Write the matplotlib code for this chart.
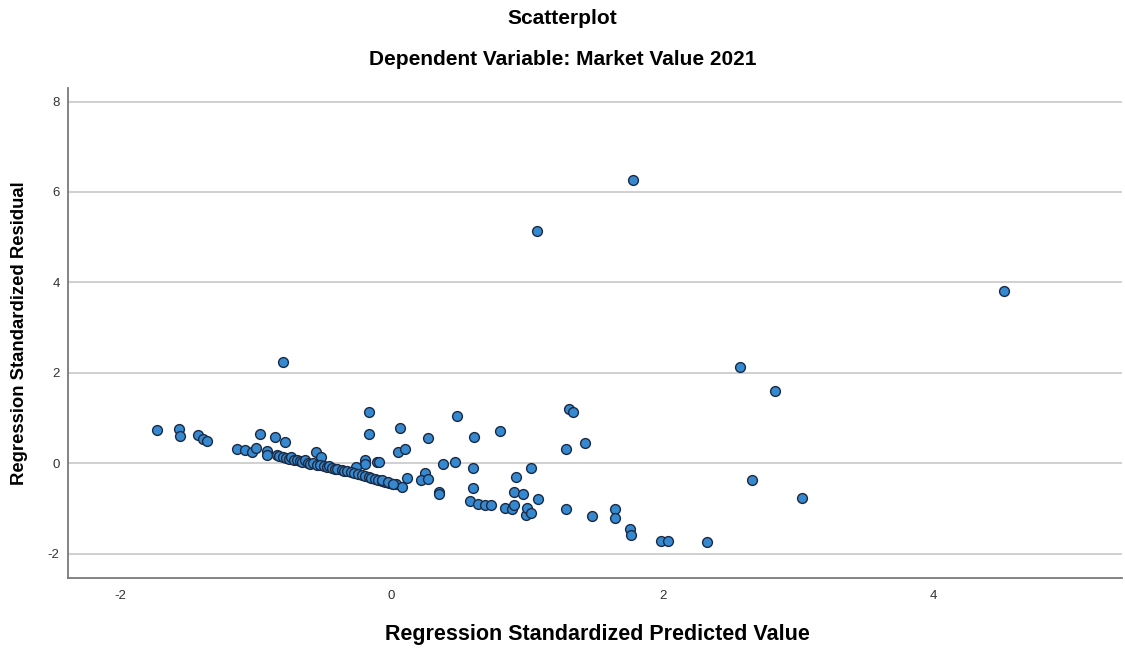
import matplotlib
matplotlib.use("Agg")
import matplotlib.pyplot as plt

plt.rcParams['font.family'] = ['Liberation Sans', 'DejaVu Sans']
plt.rcParams['axes.unicode_minus'] = False

# Regression standardized predicted value (x) and residual (y)
outlier_x = [1.78, 1.07, 4.52, -0.80, 2.57, 2.83, 2.66, 3.03, 2.33, 1.99, 2.04]
outlier_y = [6.26, 5.13, 3.81, 2.23, 2.12, 1.59, -0.38, -0.77, -1.75, -1.73, -1.73]

left_x = [-1.73, -1.57, -1.56, -1.43, -1.39, -1.36, -0.97, -0.86, -0.79,
          -1.14, -1.08, -1.03, -1.00, -0.92, -0.92, -0.85, -0.56, -0.52,
          -0.20, -0.20, -0.11, -0.26, -0.17, -0.17]
left_y = [0.73, 0.75, 0.60, 0.62, 0.53, 0.49, 0.64, 0.58, 0.47,
          0.31, 0.29, 0.24, 0.33, 0.27, 0.18, 0.18, 0.24, 0.13,
          0.07, -0.02, 0.02, -0.09, 1.13, 0.64]

band_x = [-0.83, -0.80, -0.78, -0.76, -0.74, -0.72, -0.70, -0.68, -0.66, -0.64,
          -0.62, -0.60, -0.58, -0.55, -0.53, -0.50, -0.48, -0.46, -0.44, -0.42,
          -0.40, -0.37, -0.35, -0.33, -0.30, -0.28, -0.25, -0.22, -0.20, -0.17,
          -0.15, -0.12, -0.10, -0.07, -0.05, -0.02, 0.01, 0.03]
band_y = [0.15, 0.14, 0.12, 0.10, 0.13, 0.07, 0.08, 0.05, 0.03, 0.06,
          0.01, -0.01, 0.00, -0.03, -0.04, -0.06, -0.08, -0.07, -0.11, -0.12,
          -0.13, -0.15, -0.17, -0.18, -0.20, -0.22, -0.24, -0.27, -0.29, -0.31,
          -0.33, -0.35, -0.37, -0.40, -0.42, -0.43, -0.45, -0.47]

right_x = [0.06, 0.48, 0.27, 0.61, 0.80, 1.31, 1.34, 1.43, 1.29, 0.05, 0.10,
           -0.09, 0.38, 0.47, 0.60, 1.03, 0.92, 0.25, 0.22, 0.27, 0.11, 0.08,
           -0.07, -0.03, 0.01, 0.35, 0.35, 0.60, 0.90, 0.97, 1.08, 0.58,
           0.64, 0.69, 0.73, 0.84, 0.89, 0.90, 0.99, 1.00, 1.03, 1.29,
           1.48, 1.65, 1.65, 1.76, 1.77]
right_y = [0.77, 1.04, 0.55, 0.58, 0.71, 1.19, 1.13, 0.44, 0.31, 0.24, 0.31,
           0.02, -0.02, 0.02, -0.11, -0.11, -0.30, -0.22, -0.38, -0.35, -0.33, -0.53,
           -0.38, -0.42, -0.46, -0.64, -0.69, -0.55, -0.64, -0.69, -0.80, -0.84,
           -0.91, -0.93, -0.93, -1.00, -1.02, -0.93, -1.15, -1.00, -1.10, -1.02,
           -1.17, -1.02, -1.22, -1.46, -1.59]

xs = outlier_x + left_x + band_x + right_x
ys = outlier_y + left_y + band_y + right_y

x_ticks = [-2, 0, 2, 4]
y_ticks = [-2, 0, 2, 4, 6, 8]

fig = plt.figure(figsize=(11.25, 6.52), dpi=100)
ax = fig.add_axes([0.0604, 0.1135, 0.9366, 0.7515])

ax.set_xlim(-2.39, 5.39)
ax.set_ylim(-2.54, 8.3)
for t in y_ticks:
    ax.axhline(t, color='#c8c8c8', lw=1.2, zorder=0)

ax.scatter(xs, ys, s=50, facecolor='#3689cf', edgecolor='#1a2a44',
           linewidth=1.0, zorder=3)

ax.set_xticks(x_ticks)
ax.set_yticks(y_ticks)
ax.tick_params(axis='both', length=0, labelsize=9.5, colors='#333333')
ax.tick_params(axis='x', pad=9)
ax.tick_params(axis='y', pad=6)
for s in ['top', 'right']:
    ax.spines[s].set_visible(False)
for s in ['left', 'bottom']:
    ax.spines[s].set_color('#7a7a7a')
    ax.spines[s].set_linewidth(1.3)

fig.text(0.531, 0.0276, 'Regression Standardized Predicted Value',
         ha='center', va='center', fontsize=15.5, fontweight='bold')
fig.text(0.017, 0.489, 'Regression Standardized Residual', ha='center',
         va='center', rotation=90, fontsize=13.3, fontweight='bold')

fig.text(0.5, 0.972, 'Scatterplot', ha='center', va='center',
         fontsize=15, fontweight='bold')
fig.text(0.5, 0.908, 'Dependent Variable: Market Value 2021', ha='center',
         va='center', fontsize=15, fontweight='bold')

fig.savefig('out.png', dpi=100)
